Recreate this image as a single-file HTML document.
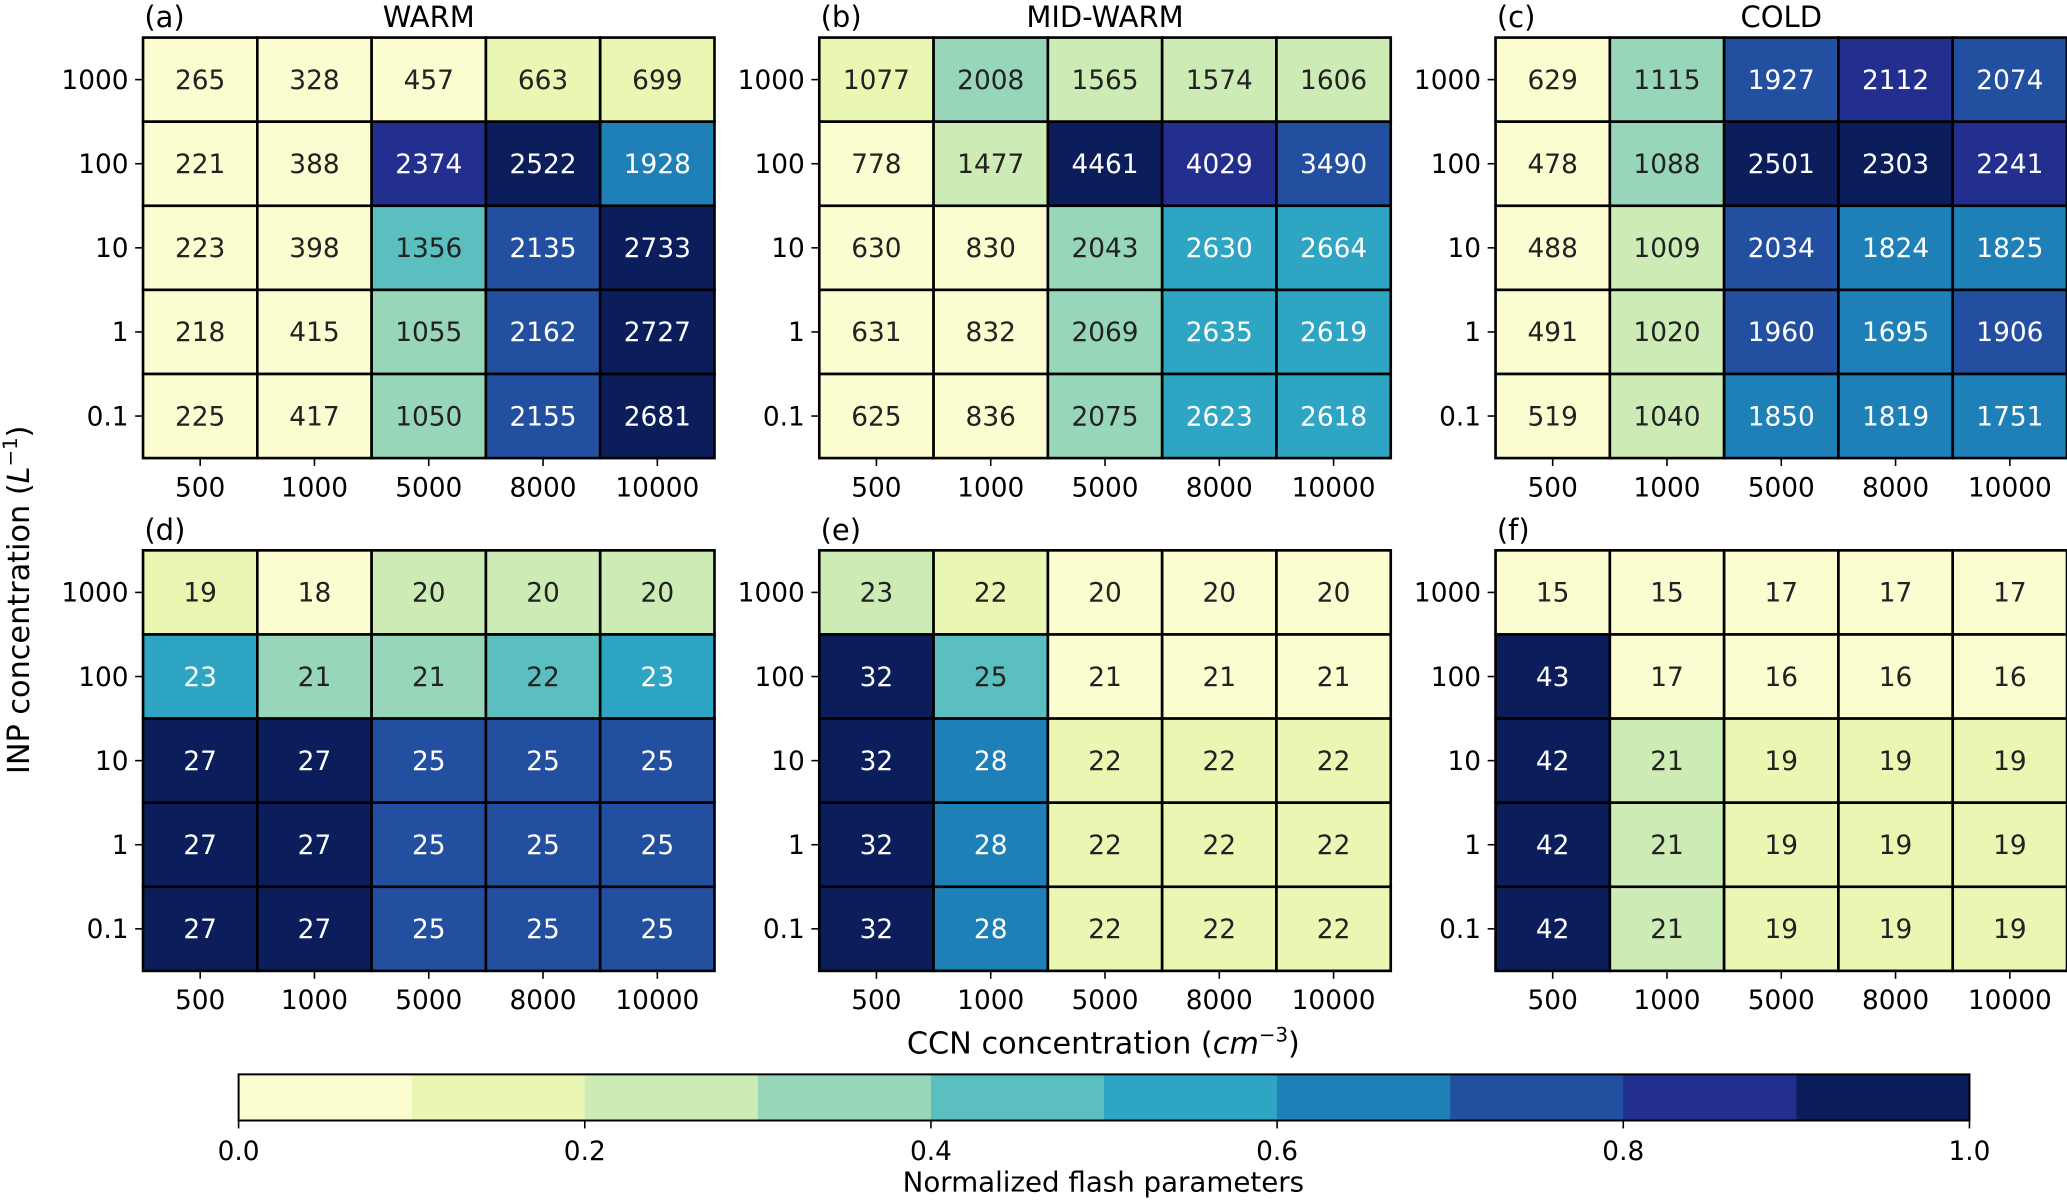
<!DOCTYPE html>
<html><head><meta charset="utf-8"><style>
html,body{margin:0;padding:0;background:#fff;}
svg{display:block;font-family:"DejaVu Sans","Liberation Sans",sans-serif;}
</style></head><body>
<svg id="chart" width="2067" height="1200" viewBox="0 0 1568 910.3" preserveAspectRatio="none" xmlns="http://www.w3.org/2000/svg"></svg>
<script>
const ccnLabels = ["500","1000","5000","8000","10000"];
const inpLabels = ["1000","100","10","1","0.1"];
const panelLetters = ["(a)","(b)","(c)","(d)","(e)","(f)"];
const panelTitles = ["WARM","MID-WARM","COLD","","",""];
const dataA = [[265,328,457,663,699],[221,388,2374,2522,1928],[223,398,1356,2135,2733],[218,415,1055,2162,2727],[225,417,1050,2155,2681]];
const dataB = [[1077,2008,1565,1574,1606],[778,1477,4461,4029,3490],[630,830,2043,2630,2664],[631,832,2069,2635,2619],[625,836,2075,2623,2618]];
const dataC = [[629,1115,1927,2112,2074],[478,1088,2501,2303,2241],[488,1009,2034,1824,1825],[491,1020,1960,1695,1906],[519,1040,1850,1819,1751]];
const dataD = [[19,18,20,20,20],[23,21,21,22,23],[27,27,25,25,25],[27,27,25,25,25],[27,27,25,25,25]];
const dataE = [[23,22,20,20,20],[32,25,21,21,21],[32,28,22,22,22],[32,28,22,22,22],[32,28,22,22,22]];
const dataF = [[15,15,17,17,17],[43,17,16,16,16],[42,21,19,19,19],[42,21,19,19,19],[42,21,19,19,19]];
const cbTicks = [0.0,0.2,0.4,0.6,0.8,1.0];
const palette = ["#fbfdd0","#eaf7b2","#cdebb4","#97d6b9","#5bbfc0","#2ea5c2","#1f80b8","#234fa0","#232f8f","#0b1d5a"];

const NS="http://www.w3.org/2000/svg";
const svg=document.getElementById('chart');
function el(tag,attrs,parent){const e=document.createElementNS(NS,tag);for(const k in attrs)e.setAttribute(k,attrs[k]);(parent||svg).appendChild(e);return e;}
function txt(s,attrs,parent){const e=el('text',attrs,parent);e.textContent=s;return e;}

const panels=[dataA,dataB,dataC,dataD,dataE,dataF];
const xs=[108.5,621.5,1134.5], ys=[28.5,417.5], W=433.5, H=319;
panels.forEach((data,p)=>{
  const x0=xs[p%3], y0=ys[Math.floor(p/3)];
  const g=el('g',{});
  
  
  const flat=data.flat(); const mn=Math.min(...flat), mx=Math.max(...flat);
  const cw=W/5, ch=H/5;
  data.forEach((row,r)=>row.forEach((v,c)=>{
    const n=(v-mn)/(mx-mn);
    const b=Math.min(9,Math.floor(n*10));
    const rect=el('rect',{x:x0+c*cw,y:y0+r*ch,width:cw,height:ch,fill:palette[b],stroke:'#000','stroke-width':2},g);
    
    
    const t=txt(String(v),{x:x0+(c+0.5)*cw,y:y0+(r+0.5)*ch+7,'text-anchor':'middle','font-size':20,fill:n>0.5?'#fff':'#222'},g);
    
    
  }));
  el('rect',{x:x0,y:y0,width:W,height:H,fill:'none',stroke:'#000','stroke-width':1.5},g);
  ccnLabels.forEach((l,i)=>{
    const cx=x0+(i+0.5)*cw;
    el('line',{x1:cx,x2:cx,y1:y0+H,y2:y0+H+6,stroke:'#000','stroke-width':1.2},g);
    const t=txt(l,{x:cx,y:y0+H+29,'text-anchor':'middle','font-size':20,fill:'#000'},g);
    
    
  });
  inpLabels.forEach((l,i)=>{
    const cy=y0+(i+0.5)*ch;
    el('line',{x1:x0-6,x2:x0,y1:cy,y2:cy,stroke:'#000','stroke-width':1.2},g);
    const t=txt(l,{x:x0-11,y:cy+7,'text-anchor':'end','font-size':20,fill:'#000'},g);
    
    
  });
  const lt=txt(panelLetters[p],{x:x0+1,y:y0-8,'font-size':22,fill:'#000'},g);
  
  
  if(panelTitles[p]){
    const tt=txt(panelTitles[p],{x:x0+W/2,y:y0-8,'text-anchor':'middle','font-size':22,fill:'#000'},g);
    
    
  }
});
// axis titles
const xt=txt('CCN concentration (',{x:837,y:799,'text-anchor':'middle','font-size':23,fill:'#000'});


xt.innerHTML='CCN concentration (<tspan font-style="italic">cm</tspan><tspan font-size="15" dy="-9">−3</tspan><tspan dy="9">)</tspan>';
const yt=el('text',{x:0,y:0,transform:'translate(22,455) rotate(-90)','text-anchor':'middle','font-size':23,fill:'#000'});


yt.innerHTML='INP concentration (<tspan font-style="italic">L</tspan><tspan font-size="15" dy="-9">−1</tspan><tspan dy="9">)</tspan>';
// colorbar
const cb=el('g',{});


const cbx=181, cbw=1313, cby=815, cbh=35;
palette.forEach((c,i)=>{
  const r=el('rect',{x:cbx+i*cbw/10,y:cby,width:cbw/10+0.5,height:cbh,fill:c},cb);
  
  
});
el('rect',{x:cbx,y:cby,width:cbw,height:cbh,fill:'none',stroke:'#000','stroke-width':1.5},cb);
cbTicks.forEach(v=>{
  const x=cbx+v*cbw;
  el('line',{x1:x,x2:x,y1:cby+cbh,y2:cby+cbh+6,stroke:'#000','stroke-width':1.2},cb);
  const t=txt(v.toFixed(1),{x:x,y:cby+cbh+30,'text-anchor':'middle','font-size':20,fill:'#000'},cb);
  
  
});
const cl=txt('Normalized flash parameters',{x:837,y:904,'text-anchor':'middle','font-size':21,fill:'#000'},cb);


</script>
</body></html>
